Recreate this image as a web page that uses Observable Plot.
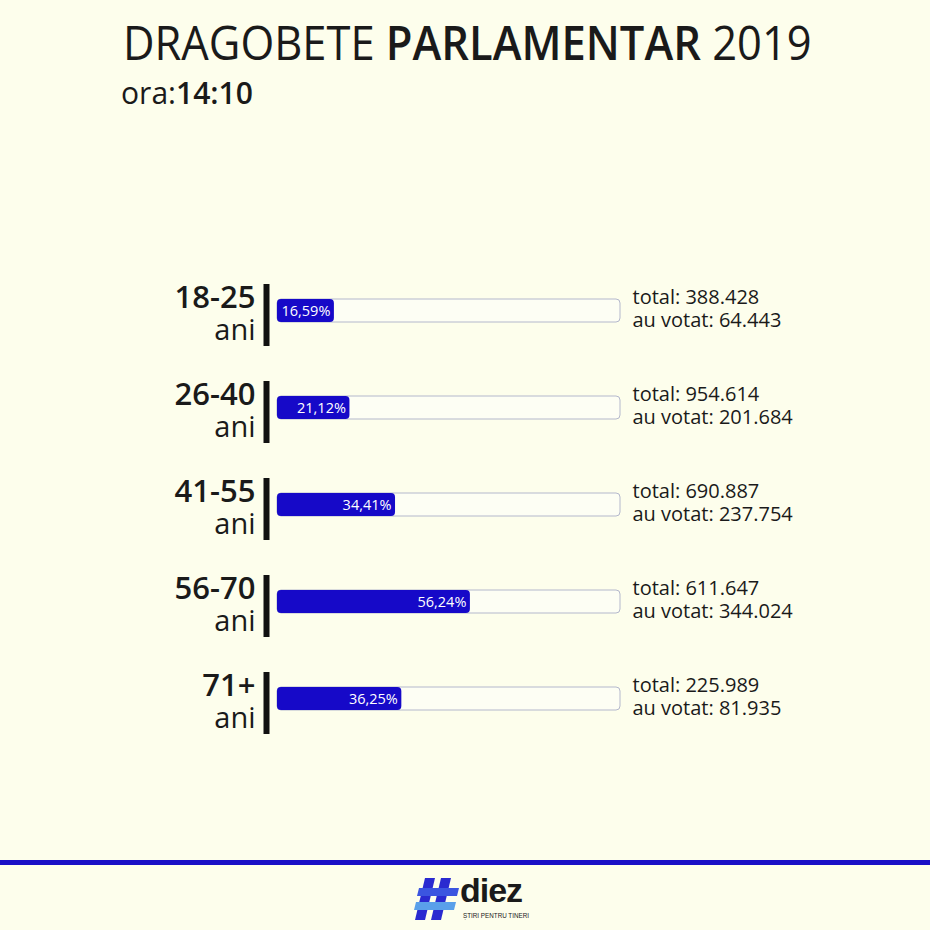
<!DOCTYPE html>
<html>
<head>
<meta charset="utf-8">
<script src="https://cdn.jsdelivr.net/npm/d3@7"></script>
<script src="https://cdn.jsdelivr.net/npm/@observablehq/plot@0.6"></script>
<style>
  html, body { margin: 0; padding: 0; background: #fdfeec; width: 930px; height: 930px; overflow: hidden; font-family: "Open Sans", "Noto Sans", sans-serif; color: #1a1a1a; }
  #head { height: 130px; position: relative; }
  #title { position: absolute; left: 0; width: 930px; top: 14px; text-align: center; font-size: 47px; line-height: 56px; white-space: nowrap; }
  #title span.in { display: inline-block; transform: scaleX(0.925); transform-origin: 50% 50%; margin-left: 4px; }
  #sub { position: absolute; left: 121px; top: 72px; font-size: 31px; line-height: 40px; white-space: nowrap; transform: scaleX(0.97); transform-origin: 0 50%; }
  b { font-weight: 600; }
  #foot { margin-top: 10px; border-top: 5px solid #1a10c6; height: 70px; position: relative; }
  #logo { position: absolute; left: 413px; top: 3px; }
</style>
</head>
<body>
<div id="head">
  <div id="title"><span class="in">DRAGOBETE <b>PARLAMENTAR</b> 2019</span></div>
  <div id="sub">ora:<b>14:10</b></div>
</div>
<div id="chart"></div>
<div id="foot">
  <svg id="logo" width="130" height="60" viewBox="0 0 130 60">
    <polygon points="12,10 22,10 12,52 2,52" fill="#2a2ad0"/>
    <polygon points="28,10 38,10 28,52 18,52" fill="#2a2ad0"/>
    <polygon points="6,20 46,20 44,28 4,28" fill="#3b55e0"/>
    <polygon points="3,34 43,34 41,42 1,42" fill="#5aa0ea"/>
    <text x="47" y="34" font-family="Liberation Sans, Arial, sans-serif" font-weight="700" font-size="34" fill="#1a1a1a" letter-spacing="-1">diez</text>
    <text x="50" y="50" font-family="Liberation Sans, Arial, sans-serif" font-size="6.3" fill="#1a1a1a">ȘTIRI PENTRU TINERI</text>
  </svg>
</div>
<script>
const ageGroups = ["18-25", "26-40", "41-55", "56-70", "71+"];
const turnoutPct = [16.59, 21.12, 34.41, 56.24, 36.25];
const turnoutLabels = ["16,59%", "21,12%", "34,41%", "56,24%", "36,25%"];
const totals = ["388.428", "954.614", "690.887", "611.647", "225.989"];
const voted = ["64.443", "201.684", "237.754", "344.024", "81.935"];

const rows = ageGroups.map((g, i) => ({
  group: g,
  pct: turnoutPct[i],
  pctLabel: turnoutLabels[i],
  total: "total: " + totals[i],
  voted: "au votat: " + voted[i]
}));

const blue = "#1609c8";
const font = "Open Sans, Noto Sans, sans-serif";

const chart = Plot.plot({
  width: 930,
  height: 720,
  marginLeft: 277,
  marginRight: 310,
  marginTop: 117.5,
  marginBottom: 79.5,
  style: { background: "transparent", fontFamily: font },
  x: { domain: [0, 100], axis: null },
  y: { domain: ageGroups, axis: null, padding: 0.364 },
  marks: [
    Plot.barX(rows, { y: "group", x1: 0, x2: 100, fill: "#fdfef4", stroke: "#b4b8cc", strokeWidth: 1, insetTop: 15, insetBottom: 24, rx: 4 }),
    Plot.barX(rows, { y: "group", x1: 0, x2: "pct", fill: blue, insetTop: 15, insetBottom: 24, rx: 4 }),
    Plot.text(rows, { y: "group", x: "pct", text: "pctLabel", textAnchor: "end", dx: -4, dy: -4.5, fill: "white", fontSize: 14.5 }),
    Plot.tickX(rows, { y: "group", x: 0, dx: -11, stroke: "#111", strokeWidth: 6 }),
    Plot.text(rows, { y: "group", x: 0, text: "group", textAnchor: "end", dx: -22, dy: -17, fontSize: 31, fontWeight: 600, fill: "#1a1a1a" }),
    Plot.text(rows, { y: "group", x: 0, text: () => "ani", textAnchor: "end", dx: -22, dy: 15, fontSize: 29, fill: "#1a1a1a" }),
    Plot.text(rows, { y: "group", x: 100, text: "total", textAnchor: "start", dx: 12, dy: -18, fontSize: 20, fill: "#1a1a1a" }),
    Plot.text(rows, { y: "group", x: 100, text: "voted", textAnchor: "start", dx: 12, dy: 5, fontSize: 20, fill: "#1a1a1a" })
  ]
});
document.getElementById("chart").appendChild(chart);
</script>
</body>
</html>
